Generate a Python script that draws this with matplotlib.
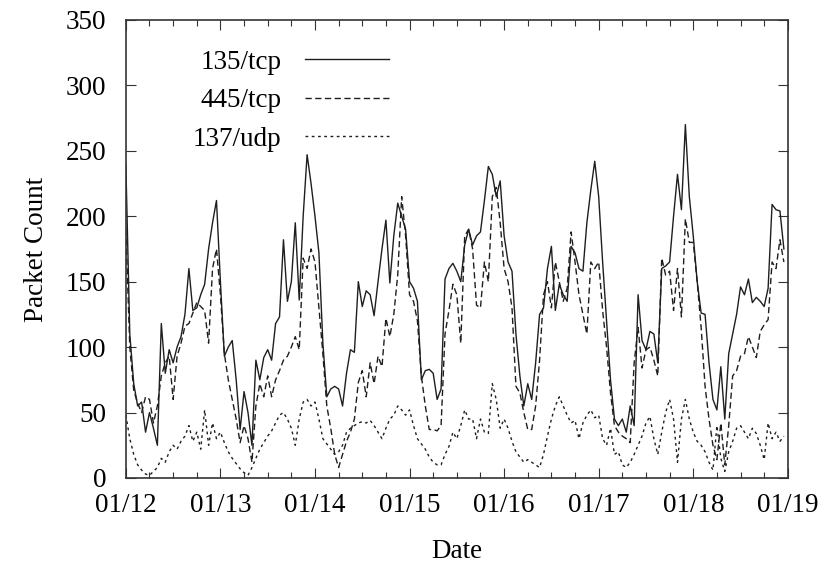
import numpy as np
import matplotlib.pyplot as plt
from matplotlib.ticker import MultipleLocator

# hourly packet counts, 01/12 00:00 .. 01/18 23:00, one list per day
tcp135_d = [
    [240, 110, 72, 55, 58, 35, 50, 38, 25, 118, 80, 98, 88, 100, 108, 125, 160, 128, 130, 140, 148, 175, 195, 212],
    [150, 93, 100, 105, 75, 37, 66, 50, 25, 90, 75, 92, 98, 90, 118, 123, 182, 135, 150, 195, 136, 200, 247, 225],
    [200, 172, 103, 62, 68, 70, 68, 55, 80, 98, 96, 150, 131, 143, 140, 124, 150, 175, 197, 149, 185, 210, 200, 190],
    [150, 145, 135, 75, 82, 83, 80, 60, 68, 152, 160, 164, 158, 150, 178, 190, 178, 185, 188, 212, 238, 232, 215, 227],
    [185, 165, 158, 110, 78, 55, 72, 60, 88, 125, 130, 160, 177, 128, 148, 140, 135, 177, 172, 160, 158, 195, 220, 242],
    [215, 165, 120, 75, 45, 40, 45, 35, 55, 40, 140, 105, 98, 112, 110, 88, 160, 162, 165, 200, 232, 205, 270, 215],
    [185, 150, 126, 125, 88, 60, 52, 85, 45, 95, 110, 125, 146, 140, 152, 134, 138, 135, 131, 145, 209, 205, 204, 175],
]
tcp445_d = [
    [190, 100, 67, 57, 50, 62, 60, 42, 55, 78, 88, 93, 60, 93, 103, 116, 118, 126, 134, 131, 128, 103, 160, 175],
    [140, 95, 75, 60, 45, 27, 40, 30, 12, 55, 72, 62, 78, 62, 75, 82, 90, 93, 100, 108, 98, 168, 160, 175],
    [165, 130, 95, 55, 38, 18, 8, 18, 28, 35, 45, 73, 82, 62, 88, 72, 93, 85, 122, 108, 125, 155, 215, 185],
    [140, 135, 120, 78, 55, 37, 37, 36, 40, 110, 128, 148, 140, 103, 185, 190, 175, 132, 130, 165, 150, 215, 222, 195],
    [160, 150, 130, 70, 65, 50, 37, 37, 55, 90, 140, 150, 130, 165, 150, 135, 145, 188, 165, 140, 125, 110, 165, 160],
    [165, 128, 100, 65, 40, 35, 32, 30, 27, 88, 115, 84, 98, 100, 90, 78, 168, 155, 158, 128, 160, 123, 198, 180],
    [180, 150, 115, 70, 45, 25, 14, 42, 10, 40, 78, 82, 93, 95, 108, 100, 92, 112, 117, 121, 165, 160, 182, 165],
]
udp137_d = [
    [48, 30, 18, 10, 6, 3, 2, 5, 8, 15, 12, 20, 25, 22, 28, 32, 40, 28, 35, 22, 52, 25, 42, 30],
    [35, 27, 20, 15, 11, 7, 4, 2, 8, 15, 22, 27, 32, 36, 42, 48, 50, 45, 38, 25, 45, 58, 60, 55],
    [58, 45, 30, 26, 22, 18, 20, 25, 35, 38, 40, 42, 43, 42, 44, 40, 35, 30, 38, 45, 48, 55, 52, 48],
    [52, 40, 30, 26, 22, 16, 12, 10, 10, 18, 24, 35, 30, 40, 52, 45, 45, 30, 45, 35, 34, 72, 60, 38],
    [45, 38, 28, 20, 16, 12, 14, 12, 10, 8, 18, 32, 45, 55, 62, 55, 48, 42, 44, 30, 42, 48, 52, 46],
    [48, 30, 25, 38, 18, 20, 10, 8, 12, 18, 25, 32, 42, 47, 30, 18, 35, 50, 60, 45, 12, 45, 60, 45],
    [35, 28, 25, 20, 12, 6, 40, 15, 5, 20, 28, 38, 40, 35, 30, 38, 34, 25, 14, 42, 30, 35, 28, 32],
]
date_labels = ['01/12', '01/13', '01/14', '01/15', '01/16', '01/17', '01/18', '01/19']

tcp135 = np.concatenate(tcp135_d)
tcp445 = np.concatenate(tcp445_d)
udp137 = np.concatenate(udp137_d)
hours = np.arange(len(tcp135))

plt.rcParams['font.family'] = 'Liberation Serif'
plt.rcParams['font.size'] = 19.5

fig = plt.figure(figsize=(8.39, 5.69), dpi=100)
ax = fig.add_axes([0.150, 0.160, 0.789, 0.805])

lc = '#1e1e1e'
ax.plot(hours, tcp135, color=lc, lw=1.0, label='135/tcp')
ax.plot(hours, tcp445, color=lc, lw=1.0, dashes=(4.5, 2.5), label='445/tcp')
ax.plot(hours, udp137, color=lc, lw=1.0, dashes=(2, 2.5), label='137/udp')

ax.set_xlim(0, 168)
ax.set_ylim(0, 350)
ax.set_xticks(np.arange(0, 169, 24))
ax.set_xticklabels(date_labels)
ax.xaxis.set_minor_locator(MultipleLocator(6))
ax.set_yticks(range(0, 351, 50))
ax.tick_params(which='both', direction='in', top=True, right=True, width=0.8, color='#333333')
ax.tick_params(which='major', length=7)
ax.tick_params(which='minor', length=4)
ax.tick_params(axis='y', pad=14)
ax.tick_params(axis='x', pad=11)
for s in ax.spines.values():
    s.set_linewidth(1.2)
    s.set_color('#333333')

ax.set_xlabel('Date', labelpad=15)
ax.set_ylabel('Packet Count', labelpad=12)

ax.legend(loc='upper right', bbox_to_anchor=(0.397, 0.935), frameon=False, markerfirst=False,
          handlelength=3.1, handletextpad=0.85, labelspacing=0.5, borderpad=0, borderaxespad=0)

fig.savefig('out.png', dpi=100)
